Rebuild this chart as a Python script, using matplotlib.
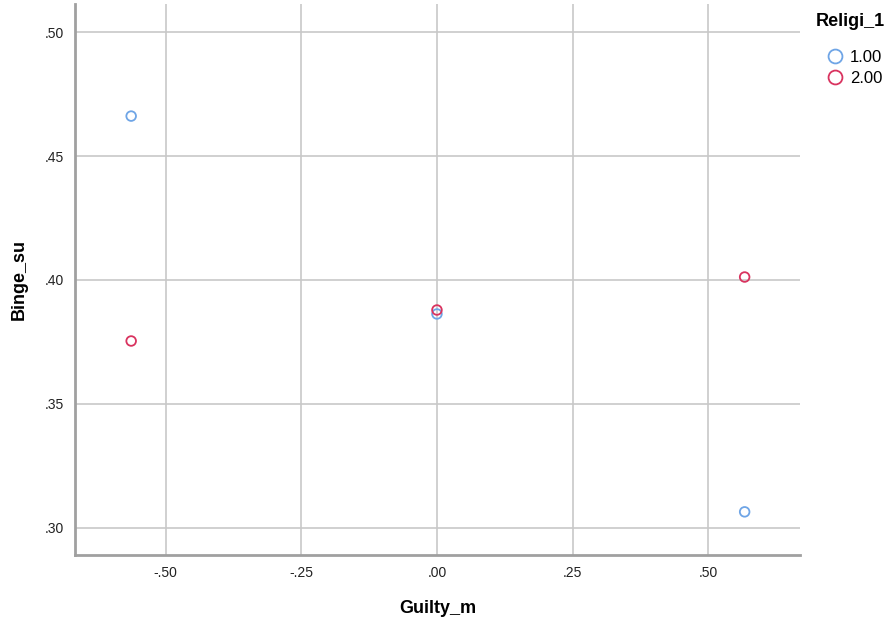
import matplotlib.pyplot as plt
from matplotlib.lines import Line2D

plt.rcParams['font.family'] = ['Liberation Sans', 'DejaVu Sans']

groups = ["1.00", "2.00"]
colors = ["#6fa5e6", "#d9335f"]
guilty = {"1.00": [-0.5635, 0.0, 0.567], "2.00": [-0.5635, 0.0, 0.567]}
binge = {"1.00": [0.4661, 0.3863, 0.3065], "2.00": [0.3754, 0.3879, 0.4012]}

xticks = [-0.50, -0.25, 0.00, 0.25, 0.50]
xticklabels = ["-.50", "-.25", ".00", ".25", ".50"]
yticks = [0.30, 0.35, 0.40, 0.45, 0.50]
yticklabels = [".30", ".35", ".40", ".45", ".50"]

fig = plt.figure(figsize=(8.87, 6.24), dpi=100)
ax = fig.add_axes([75/887, 69/624, 725/887, 551/624])

for g, c in zip(groups, colors):
    ax.scatter(guilty[g], binge[g], s=48, facecolors='none', edgecolors=c,
               linewidths=1.3, zorder=3)

ax.set_xlim(-0.667, 0.669)
ax.set_ylim(0.2891, 0.5113)
ax.set_xticks(xticks)
ax.set_xticklabels(xticklabels)
ax.set_yticks(yticks)
ax.set_yticklabels(yticklabels)
ax.grid(True, color='#c8c8c8', linewidth=1.2)
ax.set_axisbelow(True)
for s in ['top', 'right']:
    ax.spines[s].set_visible(False)
for s in ['left', 'bottom']:
    ax.spines[s].set_color('#a0a0a0')
    ax.spines[s].set_linewidth(2)
ax.tick_params(length=0, labelsize=10, colors='#222222', pad=8)

ax.set_xlabel("Guilty_m", fontsize=13, fontweight='bold', labelpad=14)
ax.set_ylabel("Binge_su", fontsize=13, fontweight='bold', labelpad=12)

handles = [Line2D([], [], marker='o', linestyle='none', markersize=10,
                  markerfacecolor='none', markeredgecolor=c, markeredgewidth=1.3)
           for c in colors]
leg = fig.legend(handles, groups, title="Religi_1", loc='upper left',
                 bbox_to_anchor=(806/887, 0.995), frameon=False, fontsize=12,
                 title_fontproperties={'weight': 'bold', 'size': 13},
                 handletextpad=-0.1, labelspacing=0.4, borderaxespad=0.2)
leg._legend_box.align = "center"
leg._legend_box.sep = 14

fig.savefig("out.png", dpi=100)
